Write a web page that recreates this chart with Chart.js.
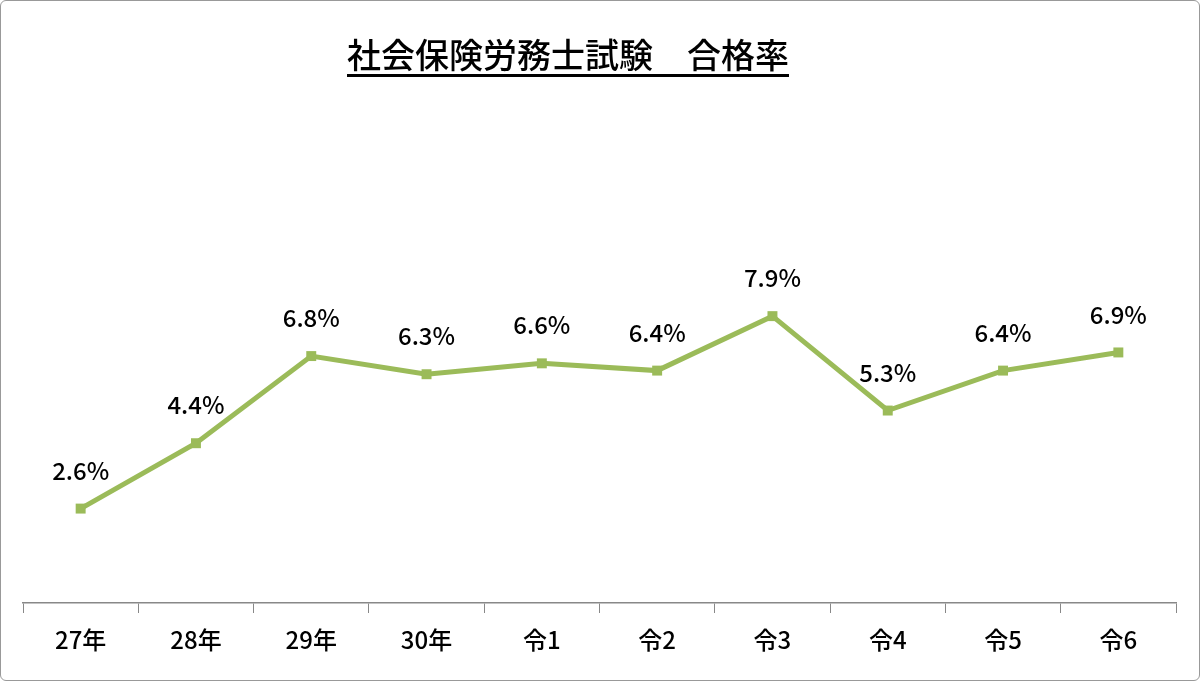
<!DOCTYPE html>
<html>
<head>
<meta charset="utf-8">
<script src="https://cdn.jsdelivr.net/npm/chart.js@4"></script>
<style>
  body { margin: 0; background: #fff; }
  #wrap { position: relative; width: 1198px; height: 679px; border: 1px solid #999; border-radius: 6px; overflow: hidden; }
  #title { position: absolute; top: 28px; left: 0; width: 1134px; text-align: center;
           font: 500 34px "Noto Sans CJK JP", sans-serif; text-decoration: underline; text-underline-offset: 6px; color: #000; }
</style>
</head>
<body>
<div id="wrap">
  <canvas id="c" width="1198" height="679"></canvas>
  <div id="title">社会保険労務士試験　合格率</div>
</div>
<script>
const categories = ['27年', '28年', '29年', '30年', '令1', '令2', '令3', '令4', '令5', '令6'];
const passRates = [2.6, 4.4, 6.8, 6.3, 6.6, 6.4, 7.9, 5.3, 6.4, 6.9];

const FONT = '"Noto Sans CJK JP", sans-serif';

// Draw value labels above each point
const valueLabels = {
  id: 'valueLabels',
  afterDatasetsDraw(chart) {
    const ctx = chart.ctx;
    const meta = chart.getDatasetMeta(0);
    ctx.save();
    ctx.font = '500 24px ' + FONT;
    ctx.fillStyle = '#000';
    ctx.textAlign = 'center';
    ctx.textBaseline = 'middle';
    meta.data.forEach((pt, i) => {
      ctx.fillText(passRates[i].toFixed(1) + '%', pt.x, pt.y - 38);
    });
    ctx.restore();
  }
};

new Chart(document.getElementById('c'), {
  type: 'line',
  data: {
    labels: categories,
    datasets: [{
      data: passRates,
      borderColor: '#9BBB59',
      backgroundColor: '#9BBB59',
      borderWidth: 5,
      pointStyle: 'rect',
      pointRadius: 3.5,
      tension: 0
    }]
  },
  options: {
    responsive: false,
    animation: false,
    layout: { padding: { top: 21, left: 22, right: 23, bottom: 0 } },
    plugins: { legend: { display: false }, tooltip: { enabled: false } },
    scales: {
      x: {
        offset: true,
        afterFit: (scale) => { scale.height = 77; },
        grid: { offset: true, drawOnChartArea: false, tickLength: 10, color: '#888' },
        border: { color: '#888', width: 1.5 },
        ticks: { font: { size: 24, family: FONT, weight: '500' }, color: '#000', padding: 12, maxRotation: 0 }
      },
      y: {
        display: false,
        min: 0,
        max: 16
      }
    }
  },
  plugins: [valueLabels]
});
</script>
</body>
</html>
